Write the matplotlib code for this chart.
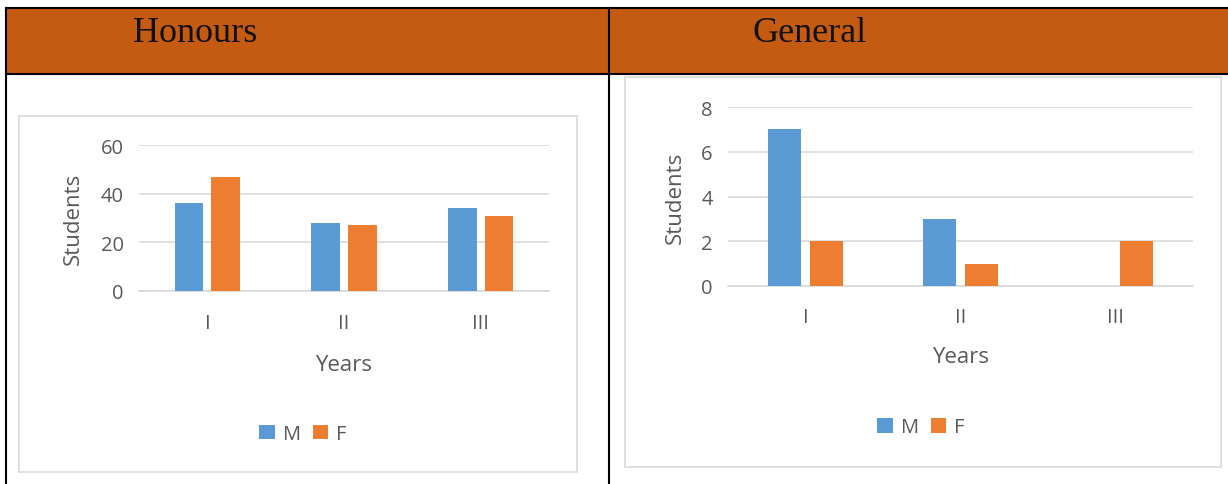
import numpy as np
import matplotlib.pyplot as plt
from matplotlib.patches import Rectangle
from matplotlib.lines import Line2D

# data
years = ['I', 'II', 'III']
hon_m = [36, 28, 34]
hon_f = [47, 27, 31]
gen_m = [7, 3, 0]
gen_f = [2, 1, 2]

W, H = 1228, 485
blue = '#5B9BD5'
orange = '#ED7D31'
txt = '#595959'
grid = '#d9d9d9'

plt.rcParams['font.family'] = ['Open Sans', 'DejaVu Sans']

fig = plt.figure(figsize=(W / 100, H / 100), dpi=100)


def fx(x):
    return x / W


def fy(y):
    return 1 - y / H


# table header + borders
fig.patches.append(Rectangle((fx(6), fy(75)), fx(W - 6), fy(9) - fy(75),
                             transform=fig.transFigure, facecolor='#C55A11',
                             edgecolor='none', zorder=0))
for (x0, y0, x1, y1) in [(6, 9, W, 9), (6, 75, W, 75), (6, 9, 6, H), (609, 9, 609, H)]:
    fig.lines.append(Line2D([fx(x0), fx(x1)], [fy(y0), fy(y1)], color='black',
                            lw=1.5, transform=fig.transFigure))

fig.text(fx(133), fy(42), 'Honours', family='Liberation Serif', fontsize=26,
         color='#111111', va='baseline', ha='left')
fig.text(fx(752), fy(42), 'General', family='Liberation Serif', fontsize=26,
         color='#111111', va='baseline', ha='left')

# chart frames
for (x0, y0, x1, y1) in [(19, 117, 577, 473), (625, 78, 1221, 468)]:
    fig.patches.append(Rectangle((fx(x0), fy(y1)), fx(x1 - x0), fy(y0) - fy(y1),
                                 transform=fig.transFigure, facecolor='none',
                                 edgecolor=grid, lw=1.2, zorder=1))


def chart(box, m, f, ymax, step, ylab_x, tick_pad, xlab_y, leg_xy):
    x0, ytop, x1, ybot = box
    ax = fig.add_axes([fx(x0), fy(ybot), fx(x1 - x0), fy(ytop) - fy(ybot)])
    x = np.arange(len(years))
    w = 0.21
    ax.bar(x - 0.135, m, w, color=blue, label='M', zorder=3)
    ax.bar(x + 0.135, f, w, color=orange, label='F', zorder=3)
    ax.set_xlim(-0.5, 2.5)
    ax.set_ylim(0, ymax)
    ax.set_yticks(np.arange(0, ymax + 1, step))
    ax.set_xticks(x)
    ax.set_xticklabels(years)
    ax.yaxis.grid(True, color=grid, lw=1.2)
    ax.set_axisbelow(True)
    for s in ['top', 'right', 'left']:
        ax.spines[s].set_visible(False)
    ax.spines['bottom'].set_color(grid)
    ax.spines['bottom'].set_linewidth(1.2)
    ax.tick_params(length=0, colors=txt, labelsize=14.5)
    ax.tick_params(axis='x', pad=tick_pad)
    ax.tick_params(axis='y', pad=11)
    ax.set_ylabel('Students', fontsize=16, color=txt)
    ax.yaxis.set_label_coords(ylab_x, 0.5)
    ax.set_xlabel('Years', fontsize=16, color=txt)
    ax.xaxis.set_label_coords(0.5, xlab_y)
    ax.legend(loc='center', bbox_to_anchor=leg_xy, ncol=2, frameon=False,
              fontsize=14.5, labelcolor=txt, handlelength=0.75, handleheight=0.75,
              handletextpad=0.4, columnspacing=0.6)
    return ax


chart((139, 146, 549, 292), hon_m, hon_f, 60, 20, -0.135, 16, -0.43, (0.40, -0.98))
chart((728, 108, 1193, 287), gen_m, gen_f, 8, 2, -0.09, 15, -0.335, (0.415, -0.79))

fig.savefig('out.png', dpi=100)
